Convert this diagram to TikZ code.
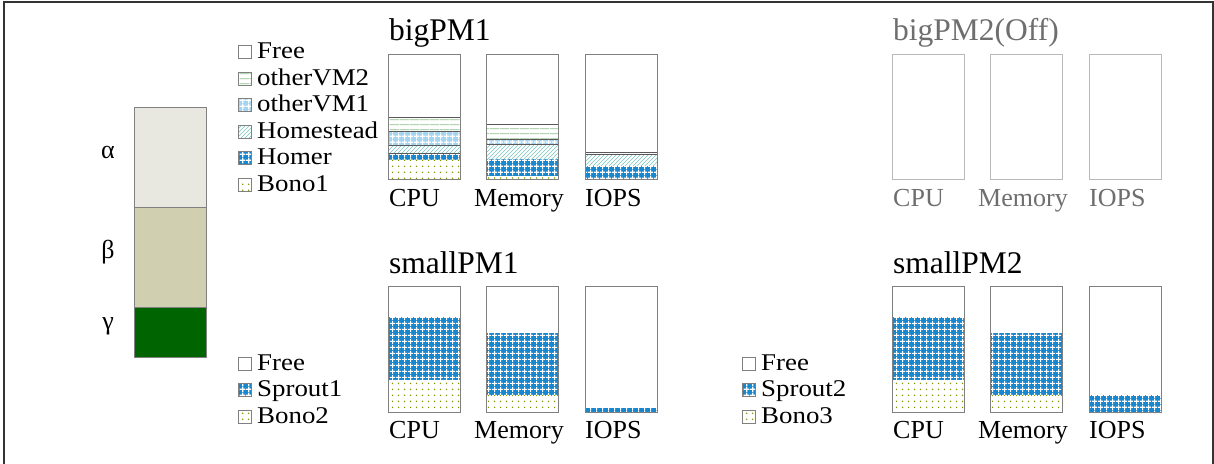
\documentclass[tikz,border=0pt]{standalone}
\usepackage{fontspec}
\setmainfont{Liberation Serif}
\newfontfamily\legfont{Liberation Serif}[FakeStretch=1.12]
\usetikzlibrary{patterns}
\definecolor{homerblue}{RGB}{25,135,205}
\definecolor{vmblue}{RGB}{165,212,240}
\definecolor{vmgreen}{RGB}{140,190,140}
\definecolor{hsteal}{RGB}{120,200,190}
\definecolor{bonodot}{RGB}{130,150,0}
\definecolor{offtext}{RGB}{110,110,110}
\definecolor{offline}{RGB}{185,185,185}
\definecolor{barline}{RGB}{128,128,128}
\definecolor{sepline}{RGB}{90,90,90}
\definecolor{alphac}{RGB}{232,232,224}
\definecolor{betac}{RGB}{208,208,176}
\definecolor{gammac}{RGB}{0,100,0}
\pgfdeclarepatternformonly{bgrid}{\pgfqpoint{0pt}{0pt}}{\pgfqpoint{6pt}{6pt}}{\pgfqpoint{6pt}{6pt}}{%
  \pgfsetlinewidth{1.3pt}%
  \pgfpathmoveto{\pgfqpoint{0pt}{3pt}}\pgfpathlineto{\pgfqpoint{6pt}{3pt}}%
  \pgfpathmoveto{\pgfqpoint{3pt}{0pt}}\pgfpathlineto{\pgfqpoint{3pt}{6pt}}%
  \pgfusepath{stroke}}
\pgfdeclarepatternformonly{hlinesp}{\pgfqpoint{0pt}{0pt}}{\pgfqpoint{10pt}{4.6pt}}{\pgfqpoint{10pt}{4.6pt}}{%
  \pgfsetlinewidth{0.8pt}%
  \pgfpathmoveto{\pgfqpoint{-0.1pt}{2.3pt}}\pgfpathlineto{\pgfqpoint{10.1pt}{2.3pt}}%
  \pgfusepath{stroke}}
\pgfdeclarepatternformonly{dlinesp}{\pgfqpoint{-1pt}{-1pt}}{\pgfqpoint{5pt}{5pt}}{\pgfqpoint{4pt}{4pt}}{%
  \pgfsetlinewidth{0.6pt}%
  \pgfpathmoveto{\pgfqpoint{0pt}{0pt}}\pgfpathlineto{\pgfqpoint{4.1pt}{4.1pt}}%
  \pgfusepath{stroke}}
\pgfdeclarepatternformonly{dotsp}{\pgfqpoint{0pt}{0pt}}{\pgfqpoint{6pt}{6pt}}{\pgfqpoint{6pt}{6pt}}{%
  \pgfpathcircle{\pgfqpoint{3pt}{3pt}}{0.9pt}%
  \pgfusepath{fill}}
\newcommand\barseg[4]{\path[#4] (#1,#2) rectangle ({#1+72},#3);}
\newcommand\sepat[2]{\draw[sep] (#1,#2) -- ({#1+72},#2);}
\tikzset{
  free/.style={fill=white},
  homer/.style={fill=homerblue, postaction={pattern=bgrid, pattern color=white}},
  vmone/.style={fill=vmblue, postaction={pattern=bgrid, pattern color=white}},
  vmtwo/.style={fill=white, postaction={pattern=hlinesp, pattern color=vmgreen}},
  hstead/.style={fill=white, postaction={pattern=dlinesp, pattern color=hsteal}},
  bono/.style={fill=white, postaction={pattern=dotsp, pattern color=bonodot}},
  sep/.style={draw=sepline, line width=0.8pt},
  barframe/.style={draw=barline, line width=0.9pt},
  offframe/.style={draw=offline, line width=0.9pt},
  legsq/.style={draw=barline, line width=0.8pt},
  legtxt/.style={anchor=base west, inner sep=0pt, font=\legfont\fontsize{24}{27}\selectfont},
  title/.style={anchor=base west, inner sep=0pt, font=\fontsize{31.5}{34}\selectfont},
  axlbl/.style={anchor=base west, inner sep=0pt, font=\fontsize{26}{29}\selectfont},
  greek/.style={anchor=base, inner sep=0pt, font=\fontsize{26}{28}\selectfont},
}
\begin{document}
\begin{tikzpicture}[x=1pt,y=-1pt]
\useasboundingbox (0,0) rectangle (1214,463);
% outer frame
\draw[draw=black!80, line width=1.4pt] (4,464) -- (4,2) -- (1213,2) -- (1213,464);
% left stacked bar
\path[fill=alphac] (134,107.5) rectangle (206,207);
\path[fill=betac] (134,207) rectangle (206,307.5);
\path[fill=gammac] (134,307.5) rectangle (206,357.5);
\draw[barline, line width=0.9pt] (134,207) -- (206,207) (134,307.5) -- (206,307.5);
\draw[barframe] (134,107.5) rectangle (206,357.5);
\node[greek] (ga) at (108,158) {α};
\node[greek] (gb) at (108,258) {β};
\node[greek] (gc) at (108,329) {γ};
% legend 1
\foreach \yy/\st/\tx/\nm in {45.5/free/Free/la,72/vmtwo/otherVM2/lb,98.5/vmone/otherVM1/lc,125/hstead/Homestead/ld,151.5/homer/Homer/le,178/bono/Bono1/lf}{
  \path[\st] (238,\yy) rectangle (251,\yy+13);
  \draw[legsq] (238,\yy) rectangle (251,\yy+13);
  \node[legtxt] (\nm) at (257,\yy+13) {\tx};
}
% legend 2
\foreach \yy/\st/\tx/\nm in {357/free/Free/ma,383.5/homer/Sprout1/mb,410/bono/Bono2/mc}{
  \path[\st] (238,\yy) rectangle (251,\yy+13);
  \draw[legsq] (238,\yy) rectangle (251,\yy+13);
  \node[legtxt] (\nm) at (257,\yy+13) {\tx};
}
% legend 3
\foreach \yy/\st/\tx/\nm in {357/free/Free/na,383.5/homer/Sprout2/nb,410/bono/Bono3/nc}{
  \path[\st] (742,\yy) rectangle (755,\yy+13);
  \draw[legsq] (742,\yy) rectangle (755,\yy+13);
  \node[legtxt] (\nm) at (761,\yy+13) {\tx};
}
% bigPM1
\node[title] (t1) at (389,40) {bigPM1};
\barseg{388.5}{54}{117}{free}
\barseg{388.5}{117}{131.5}{vmtwo}
\barseg{388.5}{131.5}{145}{vmone}
\barseg{388.5}{145}{153}{hstead}
\barseg{388.5}{153}{159.5}{homer}
\barseg{388.5}{159.5}{179}{bono}
\sepat{388.5}{117}\sepat{388.5}{131.5}\sepat{388.5}{145}\sepat{388.5}{153}
\draw[barframe] (388.5,54) rectangle (460.5,179);
\barseg{486.5}{54}{124}{free}
\barseg{486.5}{124}{139}{vmtwo}
\barseg{486.5}{139}{144}{vmone}
\barseg{486.5}{144}{159}{hstead}
\barseg{486.5}{159}{176}{homer}
\barseg{486.5}{176}{179}{bono}
\sepat{486.5}{124}\sepat{486.5}{139}\sepat{486.5}{144}
\draw[barframe] (486.5,54) rectangle (558.5,179);
\barseg{585}{54}{152}{free}
\barseg{585}{152}{153.5}{vmtwo}
\barseg{585}{153.5}{155}{vmone}
\barseg{585}{155}{166}{hstead}
\barseg{585}{166}{179}{homer}
\sepat{585}{152}\sepat{585}{154.5}
\draw[barframe] (585,54) rectangle (657,179);
\node[axlbl] (c1) at (389,206) {CPU};
\node[axlbl] (m1) at (474,206) {Memory};
\node[axlbl] (i1) at (585,206) {IOPS};
% bigPM2 (Off)
\node[title, text=offtext] (t2) at (893,40) {bigPM2(Off)};
\draw[offframe] (892,54) rectangle (964,179);
\draw[offframe] (990,54) rectangle (1062,179);
\draw[offframe] (1089,54) rectangle (1161,179);
\node[axlbl, text=offtext] (c2) at (893,206) {CPU};
\node[axlbl, text=offtext] (m2) at (978,206) {Memory};
\node[axlbl, text=offtext] (i2) at (1089,206) {IOPS};
% smallPM1
\node[title] (t3) at (389,273) {smallPM1};
\barseg{388.5}{286}{317}{free}
\barseg{388.5}{317}{380}{homer}
\barseg{388.5}{380}{412}{bono}
\draw[barframe] (388.5,286) rectangle (460.5,412);
\barseg{486.5}{286}{333}{free}
\barseg{486.5}{333}{395.5}{homer}
\barseg{486.5}{395.5}{412}{bono}
\draw[barframe] (486.5,286) rectangle (558.5,412);
\barseg{585}{286}{408}{free}
\barseg{585}{408}{412}{homer}
\draw[barframe] (585,286) rectangle (657,412);
\node[axlbl] (c3) at (389,438) {CPU};
\node[axlbl] (m3) at (474,438) {Memory};
\node[axlbl] (i3) at (585,438) {IOPS};
% smallPM2
\node[title] (t4) at (893,273) {smallPM2};
\barseg{892}{286}{317}{free}
\barseg{892}{317}{380}{homer}
\barseg{892}{380}{412}{bono}
\draw[barframe] (892,286) rectangle (964,412);
\barseg{990}{286}{333}{free}
\barseg{990}{333}{395.5}{homer}
\barseg{990}{395.5}{412}{bono}
\draw[barframe] (990,286) rectangle (1062,412);
\barseg{1089}{286}{395}{free}
\barseg{1089}{395}{412}{homer}
\draw[barframe] (1089,286) rectangle (1161,412);
\node[axlbl] (c4) at (893,438) {CPU};
\node[axlbl] (m4) at (978,438) {Memory};
\node[axlbl] (i4) at (1089,438) {IOPS};
\end{tikzpicture}
\end{document}
